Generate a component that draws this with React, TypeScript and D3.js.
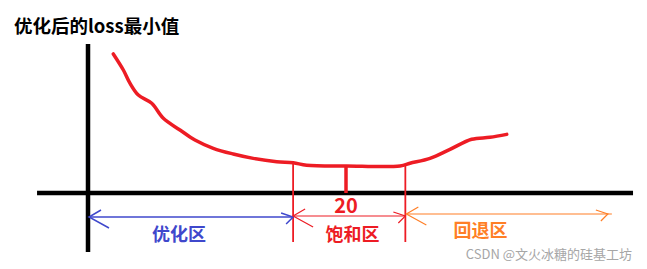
import React from "react";
import * as d3 from "d3";

// data (x: epochs, y: loss in arbitrary units)
const curveX = [1.96, 2.74, 3.26, 3.9, 4.94, 5.84, 7.13, 8.29, 9.71, 11.26, 12.81, 14.63, 15.91, 16.95, 20.05, 24.19, 24.96, 26.51, 28.06, 29.74, 31.16, 32.46];
const curveY = [9.27, 8.2, 7.31, 6.53, 5.98, 4.98, 4.2, 3.53, 2.98, 2.6, 2.31, 2.09, 2.02, 1.85, 1.8, 1.8, 1.98, 2.31, 2.91, 3.58, 3.71, 3.91];
const zoneNames = ["优化区", "饱和区", "回退区"];
const zoneStart = [0, 15.9, 24.6];
const zoneEnd = [15.9, 24.6, 40.3];
const zoneColors = ["#3f48cc", "#ed1c24", "#ff7f27"];
const minEpoch = 20;
const minLossValue = 1.8;
const titleText = "优化后的loss最小值";
const watermark = "CSDN @文火冰糖的硅基工坊";

const W = 647;
const H = 269;

export default function App() {
  const x = d3.scaleLinear().domain([0, 20]).range([88, 346]);
  const y = d3.scaleLinear().domain([0, 10]).range([193, 43]);
  const x0 = x(0);
  const y0 = y(0);
  const pts: [number, number][] = curveX.map((v, i) => [x(v), y(curveY[i])]);
  const line = d3.line().curve(d3.curveCatmullRom.alpha(0.5))(pts) || "";

  const arrowY = [y0 + 24, y0 + 23, y0 + 21];
  const labelX = [179, 352.5, 480.5];
  const labelY = [241, 241, 237];

  const curveAt = (xv: number) => {
    for (let i = 0; i < curveX.length - 1; i++) {
      if (xv >= curveX[i] && xv <= curveX[i + 1]) {
        const t = (xv - curveX[i]) / (curveX[i + 1] - curveX[i]);
        return curveY[i] + t * (curveY[i + 1] - curveY[i]);
      }
    }
    return curveY[curveY.length - 1];
  };

  return (
    <svg width={W} height={H} style={{ position: "absolute", left: 0, top: 0, background: "#fff" }}>
      <rect width={W} height={H} fill="#fff" />
      <text x={14} y={33} fontFamily="'Noto Sans CJK SC', sans-serif" fontWeight={700} fontSize={18.5} fill="#000">
        {titleText}
      </text>
      {/* axes */}
      <line x1={x(-3.95)} x2={x(42.25)} y1={y0} y2={y0} stroke="#000" strokeWidth={4.5} />
      <line x1={x0} x2={x0} y1={y(9.93)} y2={y(-3.93)} stroke="#000" strokeWidth={4.5} />
      {/* loss curve */}
      <path d={line} fill="none" stroke="#ed1c24" strokeWidth={3.5} strokeLinejoin="round" strokeLinecap="round" />
      {/* boundary lines */}
      {[zoneStart[1], zoneEnd[1]].map((b, i) => (
        <line key={i} x1={x(b)} x2={x(b)} y1={y(curveAt(b))} y2={y0 + 49} stroke="#ed1c24" strokeWidth={1.8} />
      ))}
      <line x1={x(minEpoch)} x2={x(minEpoch)} y1={y(minLossValue)} y2={y0} stroke="#ed1c24" strokeWidth={3.5} />
      {/* arrows */}
      {zoneNames.map((n, i) => {
        const xs = x(zoneStart[i]) + (i === 0 ? 1 : i === 2 ? 1 : 0);
        const xe = x(zoneEnd[i]);
        const ay = arrowY[i];
        const c = zoneColors[i];
        const tailExtra = i === 2 ? 4 : 0;
        return (
          <g key={n} stroke={c} strokeWidth={i === 0 ? 1.5 : 1.2} fill="none">
            <line x1={xs} x2={xe + tailExtra} y1={ay} y2={ay} />
            <polyline points={`${xs + 12},${ay - 7} ${xs},${ay} ${xs + 20},${ay + 11}`} />
            <polyline points={`${xe - 12},${ay - 4} ${xe},${ay} ${xe - 7},${ay + 7}`} />
          </g>
        );
      })}
      {zoneNames.map((n, i) => (
        <text
          key={n}
          x={labelX[i]}
          y={labelY[i]}
          textAnchor="middle"
          fontFamily="'Noto Sans CJK SC', sans-serif"
          fontWeight={700}
          fontSize={18}
          fill={zoneColors[i]}
        >
          {n}
        </text>
      ))}
      <text x={x(minEpoch)} y={213} textAnchor="middle" fontFamily="'Noto Sans CJK SC', sans-serif" fontWeight={700} fontSize={20} fill="#ed1c24">
        {String(minEpoch)}
      </text>
      <text x={632} y={259} textAnchor="end" fontFamily="'Noto Sans CJK SC', sans-serif" fontSize={13} fill="#a6a6a6">
        {watermark}
      </text>
    </svg>
  );
}
